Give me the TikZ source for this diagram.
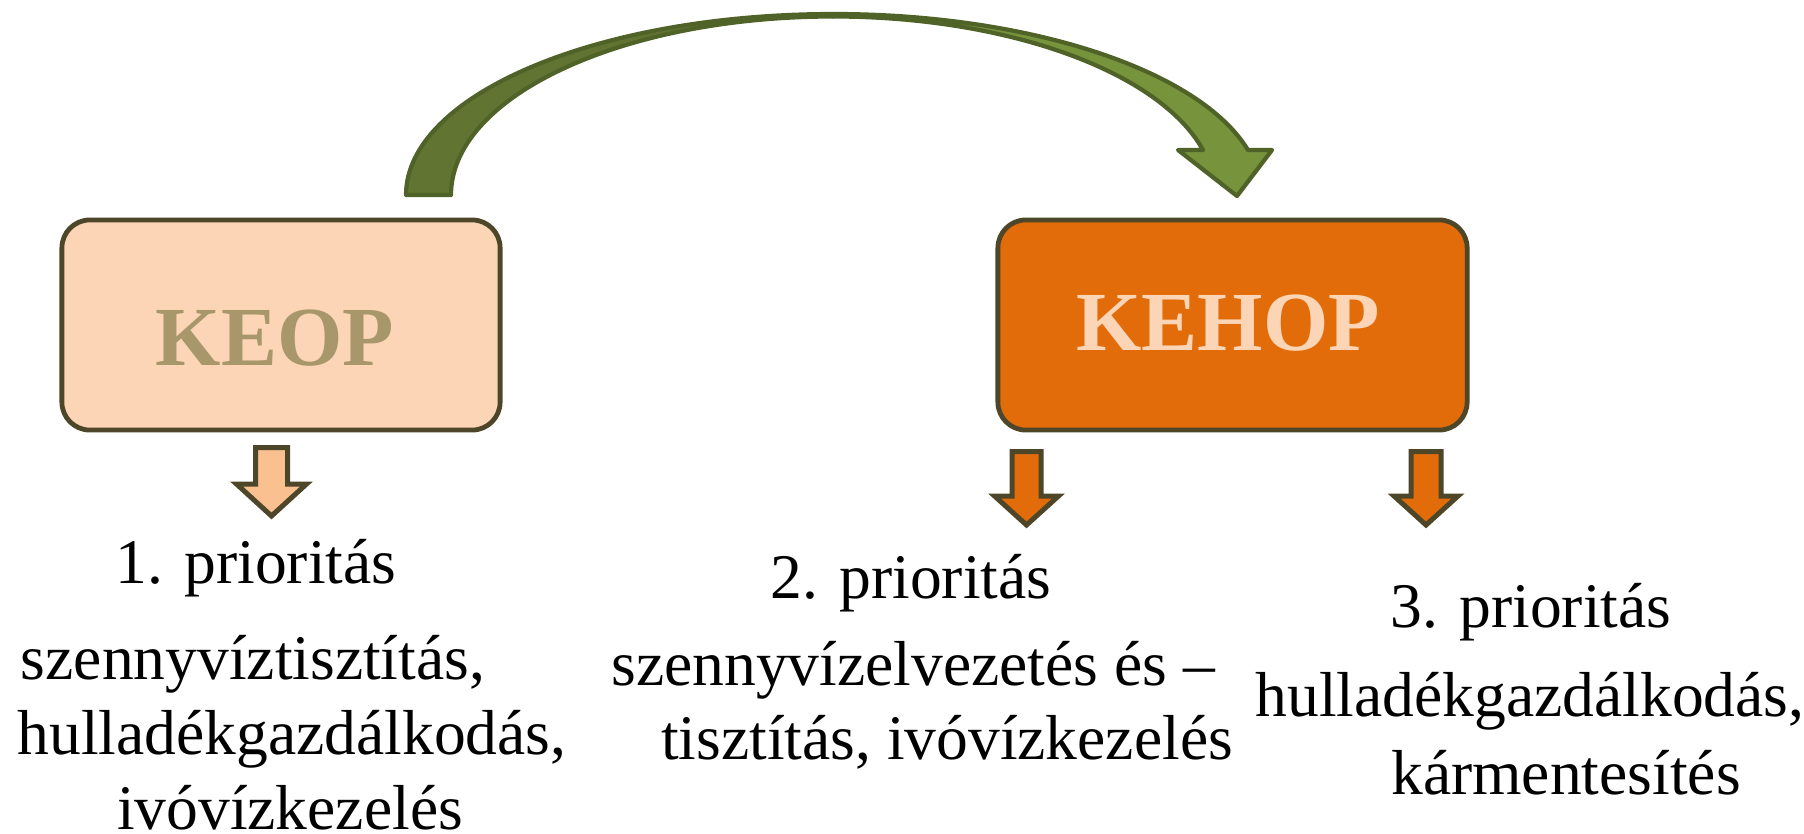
\documentclass[tikz,border=0pt]{standalone}
\usepackage{fontspec}
\setmainfont{Liberation Serif}
\definecolor{boxline}{HTML}{4D4629}
\definecolor{peach}{HTML}{FBD5B5}
\definecolor{keoptext}{HTML}{A8976A}
\definecolor{korange}{HTML}{E36C0A}
\definecolor{lightorange}{HTML}{FAC090}
\definecolor{gdark}{HTML}{617431}
\definecolor{glight}{HTML}{77933C}
\definecolor{gline}{HTML}{4F6228}
\newcommand\dnarrow[7]{%
  \filldraw[fill=#7, smallarrow] (#1-#5,#2) -- (#1+#5,#2) -- (#1+#5,#3) -- (#1+#6,#3) -- (#1,#4) -- (#1-#6,#3) -- (#1-#5,#3) -- cycle;}
\begin{document}
\begin{tikzpicture}[x=0.01cm,y=-0.01cm,
  box/.style={draw=boxline, line width=0.048cm, rounded corners=0.28cm, minimum height=2.1cm, inner sep=0pt},
  title/.style={anchor=base, inner sep=0pt, font=\fontsize{23.9}{28}\selectfont\bfseries},
  txt/.style={anchor=base, inner sep=0pt, font=\fontsize{18.07}{22}\selectfont},
  smallarrow/.style={draw=boxline, line width=0.05cm, line join=miter},
  bigarrow/.style={draw=gline, line width=0.042cm, line join=round}]
\useasboundingbox (0,0) rectangle (1804,833);

% curved arrow
\filldraw[bigarrow, fill=gdark]
  (406,195) arc[start angle=180, end angle=270, x radius=427.7, y radius=181]
  -- (833.2,16.5) arc[start angle=270, end angle=180, x radius=382.2, y radius=178.5] -- cycle;
\filldraw[bigarrow, fill=glight]
  (833.7,14) arc[start angle=270, end angle=345.6, x radius=427.7, y radius=181]
  -- (1272,150) -- (1237,196) -- (1178,150) -- (1203,150)
  arc[start angle=345.4, end angle=270, x radius=382.2, y radius=178.5] -- cycle;

% boxes
\node[box, fill=peach, minimum width=4.38cm] (keop) at (281,325) {};
\node[title, text=keoptext] (keoptxt) at (275,365) {KEOP};
\node[box, fill=korange, minimum width=4.69cm] (kehop) at (1232.5,325) {};
\node[title, text=peach] (kehoptxt) at (1228,350) {KEHOP};

% small arrows
\dnarrow{271.5}{447.5}{484}{516}{16}{35}{lightorange}
\dnarrow{1026.5}{451.5}{496}{525}{14.5}{32}{korange}
\dnarrow{1426}{451.5}{496}{525}{15}{32}{korange}

% texts
\node[txt] (p1) at (256,583) {1. prioritás};
\node[txt] (d1a) at (253,679) {szennyvíztisztítás,};
\node[txt] (d1b) at (292,754) {hulladékgazdálkodás,};
\node[txt] (d1c) at (290,829) {ivóvízkezelés};
\node[txt] (p2) at (911,598) {2. prioritás};
\node[txt] (d2a) at (913,685) {szennyvízelvezetés és –};
\node[txt] (d2b) at (947,759) {tisztítás, ivóvízkezelés};
\node[txt] (p3) at (1531,627) {3. prioritás};
\node[txt] (d3a) at (1530,716) {hulladékgazdálkodás,};
\node[txt] (d3b) at (1566,794) {kármentesítés};
\end{tikzpicture}
\end{document}
